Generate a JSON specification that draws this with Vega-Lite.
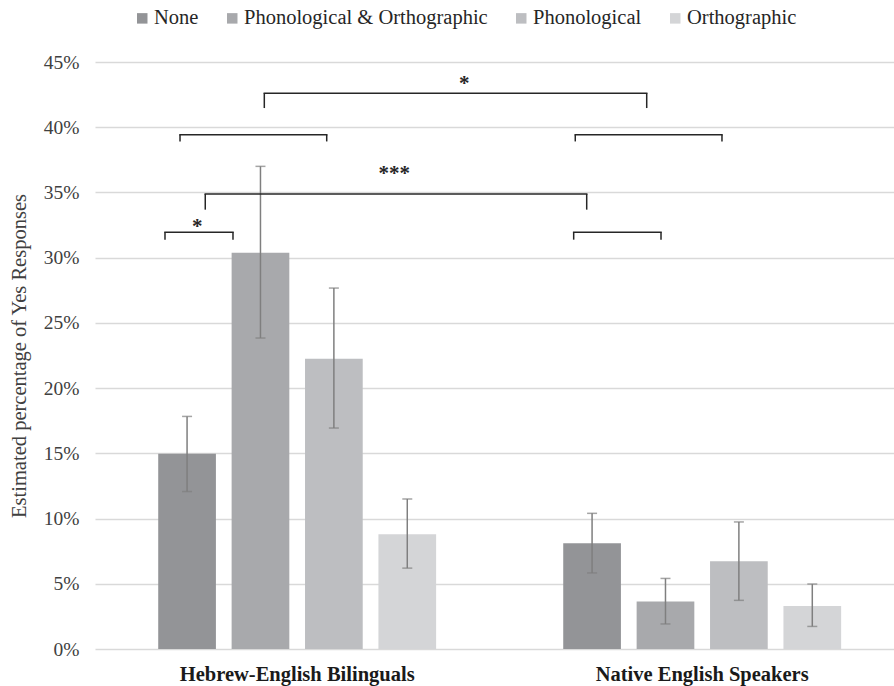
{
  "$schema": "https://vega.github.io/schema/vega-lite/v6.json",
  "width": 799,
  "height": 587,
  "autosize": {"type": "none"},
  "padding": {"left": 95, "top": 62, "right": 0, "bottom": 37},
  "background": "white",
  "config": {
    "view": {"stroke": null},
    "font": "Liberation Serif",
    "axisY": {"grid": true, "gridColor": "#d9d9d9", "gridWidth": 1.5, "domain": false, "ticks": false}
  },
  "datasets": {
    "bars": [
      {"group": "Hebrew-English Bilinguals", "condition": "None", "value": 0.1497, "lo": 0.1207, "hi": 0.1783},
      {"group": "Hebrew-English Bilinguals", "condition": "Phonological & Orthographic", "value": 0.3038, "lo": 0.2384, "hi": 0.3700},
      {"group": "Hebrew-English Bilinguals", "condition": "Phonological", "value": 0.2226, "lo": 0.1694, "hi": 0.2767},
      {"group": "Hebrew-English Bilinguals", "condition": "Orthographic", "value": 0.088, "lo": 0.062, "hi": 0.115},
      {"group": "Native English Speakers", "condition": "None", "value": 0.081, "lo": 0.0583, "hi": 0.104},
      {"group": "Native English Speakers", "condition": "Phonological & Orthographic", "value": 0.0365, "lo": 0.0192, "hi": 0.0541},
      {"group": "Native English Speakers", "condition": "Phonological", "value": 0.0672, "lo": 0.0373, "hi": 0.0974},
      {"group": "Native English Speakers", "condition": "Orthographic", "value": 0.033, "lo": 0.0173, "hi": 0.0498}
    ],
    "brackets": [
      {"x1": 21.19, "x2": 69.05, "y": 0.426, "yt": 0.4147},
      {"x1": 10.64, "x2": 29.0, "y": 0.3943, "yt": 0.3891},
      {"x1": 60.11, "x2": 78.47, "y": 0.3943, "yt": 0.3891},
      {"x1": 13.8, "x2": 61.54, "y": 0.3488, "yt": 0.3368},
      {"x1": 8.76, "x2": 17.27, "y": 0.3194, "yt": 0.3138},
      {"x1": 59.91, "x2": 70.84, "y": 0.3194, "yt": 0.3138}
    ],
    "stars": [
      {"label": "*", "pos": 12.8, "y": 0.319},
      {"label": "***", "pos": 37.46, "y": 0.3598},
      {"label": "*", "pos": 46.2, "y": 0.4285}
    ]
  },
  "layer": [
    {
      "data": {"name": "bars"},
      "encoding": {
        "x": {
          "field": "group", "type": "nominal",
          "sort": ["Hebrew-English Bilinguals", "Native English Speakers"],
          "scale": {"paddingInner": 0.2, "paddingOuter": 0.0864, "align": 0.574, "round": false},
          "axis": {"title": null, "labelAngle": 0, "labelFontSize": 20.5, "labelFontWeight": "bold", "labelColor": "#1a1a1a", "ticks": false, "domain": false, "labelPadding": 15, "grid": false, "labelLimit": 0}
        },
        "xOffset": {
          "field": "condition", "type": "nominal",
          "sort": ["None", "Phonological & Orthographic", "Phonological", "Orthographic"],
          "scale": {"paddingInner": 0.214, "paddingOuter": 0.314, "round": false}
        }
      },
      "layer": [
        {
          "mark": {"type": "bar"},
          "encoding": {
            "y": {
              "field": "value", "type": "quantitative",
              "scale": {"domain": [0, 0.45], "nice": false},
              "title": "Estimated percentage of Yes Responses",
              "axis": {"format": ".0%", "values": [0, 0.05, 0.1, 0.15, 0.2, 0.25, 0.3, 0.35, 0.4, 0.45], "labelFontSize": 19.5, "labelColor": "#404040", "labelPadding": 16, "titleFontSize": 20.5, "titleFontWeight": "normal", "titleColor": "#404040", "titleX": -70, "titleY": 293.5, "titleAngle": 270, "titleAlign": "center", "titleBaseline": "alphabetic"}
            },
            "color": {
              "field": "condition", "type": "nominal",
              "sort": ["None", "Phonological & Orthographic", "Phonological", "Orthographic"],
              "scale": {"domain": ["None", "Phonological & Orthographic", "Phonological", "Orthographic"], "range": ["#939497", "#a8a9ac", "#bdbec1", "#d4d5d7"]},
              "legend": {"title": null, "orient": "none", "direction": "horizontal", "legendX": 37, "legendY": -54, "symbolType": "square", "symbolSize": 110, "symbolStrokeWidth": 0, "labelFontSize": 20.5, "labelColor": "#262626", "labelOffset": 1.5, "columnPadding": 23, "padding": 0, "labelLimit": 0}
            }
          }
        },
        {
          "mark": {"type": "rule", "color": "#7f7f7f", "strokeWidth": 1.5},
          "encoding": {
            "y": {"field": "lo", "type": "quantitative", "scale": {"domain": [0, 0.45], "nice": false}, "title": "Estimated percentage of Yes Responses"},
            "y2": {"field": "hi"}
          }
        },
        {
          "mark": {"type": "tick", "color": "#7f7f7f", "thickness": 1.5, "size": 10},
          "encoding": {
            "y": {"field": "lo", "type": "quantitative", "scale": {"domain": [0, 0.45], "nice": false}, "title": "Estimated percentage of Yes Responses"}
          }
        },
        {
          "mark": {"type": "tick", "color": "#7f7f7f", "thickness": 1.5, "size": 10},
          "encoding": {
            "y": {"field": "hi", "type": "quantitative", "scale": {"domain": [0, 0.45], "nice": false}, "title": "Estimated percentage of Yes Responses"}
          }
        }
      ]
    },
    {
      "layer": [
        {
          "data": {"name": "brackets"},
          "mark": {"type": "rule", "color": "#262626", "strokeWidth": 1.5, "strokeCap": "square"},
          "encoding": {
            "x": {"field": "x1", "type": "quantitative", "scale": {"domain": [0, 100], "nice": false, "zero": false}, "axis": null},
            "x2": {"field": "x2"},
            "y": {"field": "y", "type": "quantitative", "scale": {"domain": [0, 0.45], "nice": false}, "title": "Estimated percentage of Yes Responses"}
          }
        },
        {
          "data": {"name": "brackets"},
          "mark": {"type": "rule", "color": "#262626", "strokeWidth": 1.5},
          "encoding": {
            "x": {"field": "x1", "type": "quantitative", "scale": {"domain": [0, 100], "nice": false, "zero": false}, "axis": null},
            "y": {"field": "y", "type": "quantitative", "scale": {"domain": [0, 0.45], "nice": false}, "title": "Estimated percentage of Yes Responses"},
            "y2": {"field": "yt"}
          }
        },
        {
          "data": {"name": "brackets"},
          "mark": {"type": "rule", "color": "#262626", "strokeWidth": 1.5},
          "encoding": {
            "x": {"field": "x2", "type": "quantitative", "scale": {"domain": [0, 100], "nice": false, "zero": false}, "axis": null},
            "y": {"field": "y", "type": "quantitative", "scale": {"domain": [0, 0.45], "nice": false}, "title": "Estimated percentage of Yes Responses"},
            "y2": {"field": "yt"}
          }
        },
        {
          "data": {"name": "stars"},
          "mark": {"type": "text", "fontWeight": "bold", "fontSize": 21, "baseline": "alphabetic", "align": "center", "color": "#262626"},
          "encoding": {
            "x": {"field": "pos", "type": "quantitative", "scale": {"domain": [0, 100], "nice": false, "zero": false}, "axis": null},
            "y": {"field": "y", "type": "quantitative", "scale": {"domain": [0, 0.45], "nice": false}, "title": "Estimated percentage of Yes Responses"},
            "text": {"field": "label"}
          }
        }
      ]
    }
  ],
  "resolve": {"scale": {"x": "independent"}}
}
